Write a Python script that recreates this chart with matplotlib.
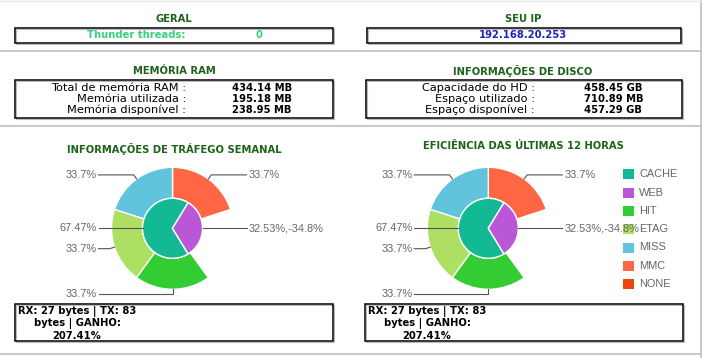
import numpy as np
import matplotlib.pyplot as plt
from matplotlib.patches import Rectangle

W, H = 703, 358

# --- data ---
geral_label = "Thunder threads:"
geral_value = "0"
ip = "192.168.20.253"

ram_labels = ["Total de memória RAM :", "Memória utilizada :", "Memória disponível :"]
ram_values = ["434.14 MB", "195.18 MB", "238.95 MB"]
disk_labels = ["Capacidade do HD :", "Espaço utilizado :", "Espaço disponível :"]
disk_values = ["458.45 GB", "710.89 MB", "457.29 GB"]

traffic_lines = ["RX: 27 bytes | TX: 83", "bytes | GANHO:", "207.41%"]

inner_names = ["CACHE", "WEB"]
inner_values = [67.47, 32.53]
inner_text = ["67.47%", "32.53%,-34.8%"]

outer_names = ["MMC", "MISS", "ETAG", "HIT"]
outer_share = [0.2, 0.2, 0.2, 0.2]
outer_text = ["33.7%", "33.7%", "33.7%", "33.7%"]

legend_names = ["CACHE", "WEB", "HIT", "ETAG", "MISS", "MMC", "NONE"]
colors = {"CACHE": "#12b994", "WEB": "#b957d6", "HIT": "#33cc33",
          "ETAG": "#addf62", "MISS": "#62c4dc", "MMC": "#ff6644",
          "NONE": "#ee4411"}

title_green = "#1d6319"
BOLD = 7.2

fig = plt.figure(figsize=(W / 100, H / 100), dpi=100)
ax = fig.add_axes([0, 0, 1, 1])


def Y(y):
    return H - y


def box(x0, y0, x1, y1):
    ax.add_patch(Rectangle((x0 + 1, Y(y1) - 1), x1 - x0, y1 - y0, fill=False,
                           edgecolor="#bbbbbb", lw=0.8, zorder=2))
    ax.add_patch(Rectangle((x0, Y(y1)), x1 - x0, y1 - y0, fill=False,
                           edgecolor="black", lw=1.1, zorder=3))


def title(x, y, s):
    ax.text(x, Y(y), s, ha="center", va="center", fontsize=BOLD,
            fontweight="bold", color=title_green)


# page lines
for yy in [51, 126, 354]:
    ax.plot([0, 701], [Y(yy), Y(yy)], color="#bbbbbb", lw=1.1)
ax.plot([701, 701], [0, H], color="#bbbbbb", lw=1.1)
ax.plot([0, 701], [Y(0.5), Y(0.5)], color="#e8e8e8", lw=1)

# top row
title(174, 19, "GERAL")
box(15, 28, 333, 43)
ax.text(87, Y(35.5), geral_label, ha="left", va="center", fontsize=BOLD,
        fontweight="bold", color="#38d07a")
ax.text(259, Y(35.5), geral_value, ha="center", va="center", fontsize=BOLD,
        fontweight="bold", color="#38d07a")

title(523, 19, "SEU IP")
box(367, 28, 681, 43)
ax.text(523, Y(35.5), ip, ha="center", va="center", fontsize=BOLD,
        fontweight="bold", color="#2222bb")

# memory / disk
title(174, 71, "MEMÓRIA RAM")
box(15, 80, 333, 118)
title(523, 71, "INFORMAÇÕES DE DISCO")
box(366, 80, 682, 118)
row_y = [88.3, 99.3, 109.6]
for i in range(3):
    ax.text(186, Y(row_y[i]), ram_labels[i], ha="right", va="center",
            fontsize=8.2, color="black")
    ax.text(232, Y(row_y[i]), ram_values[i], ha="left", va="center",
            fontsize=BOLD, fontweight="bold", color="black")
    ax.text(535, Y(row_y[i]), disk_labels[i], ha="right", va="center",
            fontsize=8.2, color="black")
    ax.text(584, Y(row_y[i]), disk_values[i], ha="left", va="center",
            fontsize=BOLD, fontweight="bold", color="black")

# chart titles
title(174, 149, "INFORMAÇÕES DE TRÁFEGO SEMANAL")
title(523, 146, "EFICIÊNCIA DAS ÚLTIMAS 12 HORAS")

# legend (right chart)
leg_y0, leg_dy = 174.3, 18.3
for i, name in enumerate(legend_names):
    yy = leg_y0 + i * leg_dy
    ax.add_patch(Rectangle((622.5, Y(yy) - 5), 11.5, 10, color=colors[name],
                           lw=0, zorder=3))
    ax.text(639, Y(yy), name, ha="left", va="center", fontsize=7.9,
            color="#666666", family="Liberation Sans", zorder=3)


def label_wedges(wedges, texts, cx, cy, r):
    for w, s in zip(wedges, texts):
        mid = np.deg2rad((w.theta1 + w.theta2) / 2)
        ax_, ay_ = cx + r * np.cos(mid), cy + r * np.sin(mid)
        ex, ey = cx + (r + 5) * np.cos(mid), cy + (r + 5) * np.sin(mid)
        side = 1 if np.cos(mid) > 1e-6 else -1
        lx = cx + side * 74
        ax.plot([ax_, ex, lx], [ay_, ey, ey], color="#555555", lw=0.8,
                zorder=4)
        ax.text(cx + side * 76, ey, s, ha="left" if side > 0 else "right",
                va="center", fontsize=7.9, color="#666666",
                family="Liberation Sans", zorder=5)


for cx_px, cy_px in [(172.5, 228.3), (488.3, 228.3)]:
    cx, cy = cx_px, Y(cy_px)
    wo, _ = ax.pie(outer_share, normalize=False, radius=61, center=(cx, cy),
                   startangle=18, counterclock=True,
                   colors=[colors[n] for n in outer_names],
                   wedgeprops=dict(width=31, edgecolor="white", linewidth=1))
    wi, _ = ax.pie(inner_values, radius=30, center=(cx, cy),
                   startangle=inner_values[1] / 100 * 180, counterclock=True,
                   colors=[colors[n] for n in inner_names],
                   wedgeprops=dict(edgecolor="white", linewidth=1))
    label_wedges(wo, outer_text, cx, cy, 61)
    label_wedges(wi, inner_text, cx, cy, 30)

# traffic boxes
box(15, 304, 333, 341)
box(365, 304, 683, 341)
line_y = [311.7, 323.5, 335.7]
for x in [77, 427]:
    for s, yy in zip(traffic_lines, line_y):
        ax.text(x, Y(yy), s, ha="center", va="center", fontsize=BOLD,
                fontweight="bold", color="black")

ax.set_xlim(0, W)
ax.set_ylim(0, H)
ax.set_aspect("auto")
ax.axis("off")
fig.savefig("out.png", dpi=100)
